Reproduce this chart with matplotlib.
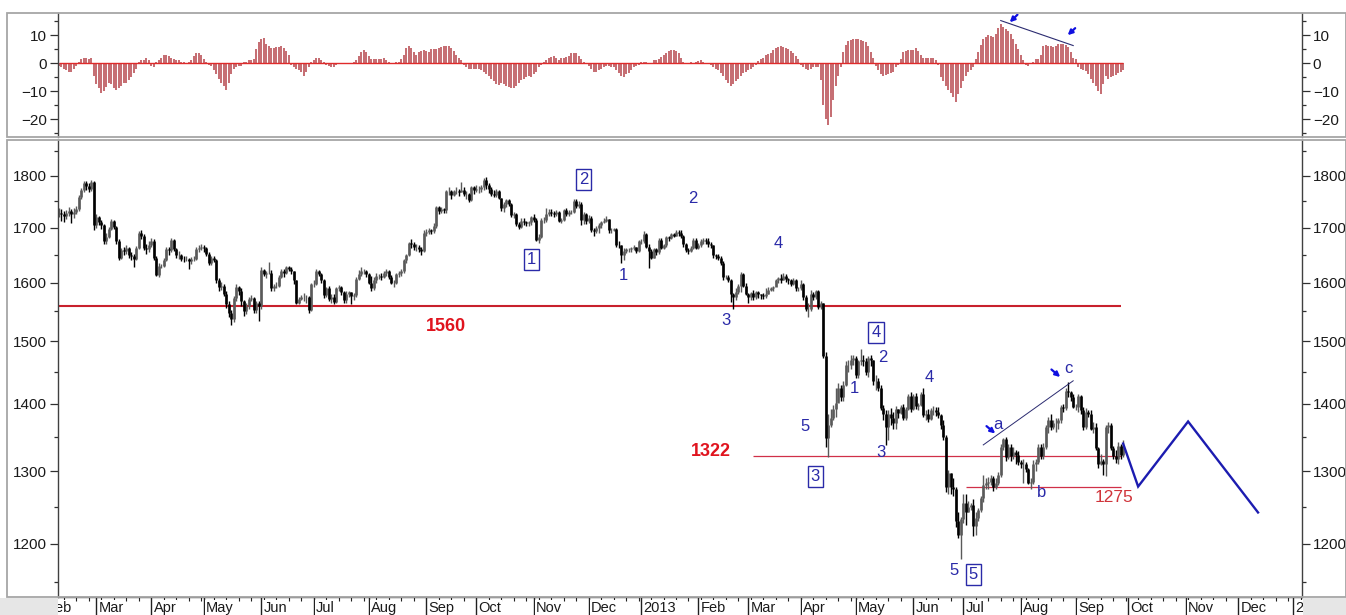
import numpy as np
import pandas as pd
import matplotlib
matplotlib.use("Agg")
import matplotlib.pyplot as plt
import matplotlib.transforms as mtransforms
from matplotlib.ticker import FixedLocator, FixedFormatter, NullFormatter
from matplotlib.patches import Rectangle

plt.rcParams['font.family'] = ['Liberation Sans', 'DejaVu Sans']

# ---------------- data (daily bars, business days from first_day) ----------------
first_day = "2012-02-09"

close_2012 = [1728,1725,1722,1727,1732,1725,1730,1735,1758,1772,1785,1780,1775,1788,1705,
    1720,1710,1705,1675,1683,1698,1712,1702,1675,1645,1658,1657,1662,1650,1648,1643,1662,1690,1685,1662,1660,1668,
    1675,1645,1613,1630,1630,1640,1660,1658,1677,1660,1650,1650,1643,1642,1643,1638,1642,1643,1660,1663,1664,
    1662,1652,1635,1645,1640,1605,1592,1595,1580,1562,1548,1538,1573,1592,1585,1568,1550,1560,1572,1573,1553,1565,1560,
    1622,1615,1617,1618,1590,1595,1595,1610,1620,1617,1628,1625,1620,1605,1565,1572,1575,1575,1575,1552,1598,
    1598,1620,1615,1605,1578,1590,1572,1575,1567,1590,1592,1583,1570,1580,1583,1577,1578,1607,1615,1620,1620,1615,
    1600,1590,1605,1612,1612,1610,1617,1620,1610,1600,1600,1615,1617,1620,1640,1650,1672,1670,1665,1665,1660,1657,1690,
    1692,1695,1693,1703,1740,1731,1735,1733,1770,1770,1762,1770,1770,1768,1773,1765,1765,1752,1778,1772,
    1775,1775,1777,1792,1781,1775,1765,1762,1770,1757,1737,1745,1752,1745,1723,1725,1707,1702,1713,1711,1708,1710,1720,
    1715,1677,1683,1715,1715,1725,1730,1728,1725,1730,1713,1715,1733,1725,1730,1730,1750,1742,1745,1715,1725,1712,
    1719,1696,1693,1700,1705,1711,1713,1717,1695,1696,1697,1668,1667,1650,1657,1660,1660,1662,1664,1656,1675]
high_2012 = [1738,1735,1731,1734,1740,1736,1737,1742,1762,1776,1790,1789,1785,1792,1790,
    1725,1722,1714,1706,1690,1702,1716,1714,1704,1678,1662,1664,1668,1664,1655,1652,1666,1694,1696,1688,1670,1675,
    1680,1678,1648,1635,1634,1645,1664,1665,1680,1678,1662,1656,1652,1648,1648,1644,1646,1648,1664,1668,1670,
    1668,1665,1655,1648,1648,1642,1608,1602,1598,1585,1568,1552,1576,1597,1595,1590,1570,1565,1575,1578,1575,1568,1568,
    1628,1625,1621,1637,1622,1598,1602,1614,1625,1625,1630,1630,1628,1620,1605,1575,1578,1582,1578,1577,1600,
    1605,1625,1622,1618,1607,1592,1594,1580,1580,1593,1596,1594,1585,1585,1586,1583,1582,1610,1623,1627,1624,1623,
    1617,1612,1610,1618,1616,1617,1620,1625,1623,1614,1604,1618,1620,1624,1642,1652,1674,1678,1674,1670,1668,1664,1696,
    1698,1700,1698,1708,1742,1741,1740,1738,1772,1778,1773,1773,1778,1775,1788,1777,1770,1767,1780,1779,
    1782,1780,1782,1796,1798,1785,1778,1772,1775,1772,1757,1748,1755,1755,1747,1730,1727,1710,1718,1718,1713,1713,1722,
    1725,1718,1688,1718,1720,1738,1735,1735,1732,1734,1732,1718,1736,1738,1734,1733,1755,1754,1750,1748,1729,1728,
    1724,1722,1700,1703,1708,1712,1718,1722,1717,1700,1700,1699,1675,1668,1663,1663,1662,1665,1668,1665,1677]
low_2012 = [1720,1712,1710,1716,1722,1708,1718,1726,1731,1754,1768,1772,1768,1770,1695,
    1700,1705,1698,1670,1670,1680,1695,1698,1670,1640,1642,1650,1652,1645,1640,1627,1640,1660,1678,1658,1652,1655,
    1665,1640,1612,1610,1626,1628,1638,1650,1655,1656,1645,1642,1638,1636,1638,1625,1634,1638,1640,1655,1658,
    1655,1648,1632,1632,1636,1600,1585,1588,1576,1556,1540,1527,1532,1568,1578,1560,1542,1545,1555,1568,1548,1548,1534,
    1555,1612,1608,1615,1586,1585,1590,1592,1608,1610,1615,1620,1615,1598,1562,1562,1570,1568,1565,1548,1550,
    1592,1596,1612,1600,1573,1575,1568,1565,1562,1565,1585,1578,1565,1565,1575,1563,1570,1575,1605,1612,1615,1610,
    1597,1585,1588,1600,1606,1604,1608,1612,1606,1597,1592,1598,1610,1612,1618,1635,1648,1662,1658,1657,1655,1650,1655,
    1685,1688,1688,1690,1700,1726,1728,1728,1728,1762,1755,1760,1765,1760,1768,1760,1755,1748,1750,1765,
    1768,1766,1768,1772,1775,1767,1760,1758,1758,1755,1732,1730,1740,1741,1720,1718,1703,1697,1700,1705,1703,1703,1705,
    1710,1675,1672,1680,1708,1710,1722,1722,1720,1722,1710,1708,1712,1722,1722,1726,1728,1738,1738,1705,1706,1707,
    1708,1692,1685,1690,1690,1700,1708,1710,1690,1690,1693,1665,1662,1635,1640,1653,1655,1655,1658,1653,1655]

close_2013 = [1675,1688,1665,1657,1645,1660,1655,1677,1662,1668,1682,1680,1688,1685,1692,1690,1685,1670,1658,1657,1662,1677,1662,
    1667,1675,1677,1675,1670,1668,1650,1648,1645,1635,1610,1610,1605,1580,1575,1583,1595,1615,1595,1580,
    1575,1582,1575,1583,1580,1578,1577,1580,1588,1590,1592,1604,1608,1605,1612,1607,1605,1597,1605,1590,1590,
    1598,1575,1555,1555,1580,1575,1585,1558,1564,1476,1348,1368,1378,1392,1402,1425,1410,1430,1462,1462,1470,1472,
    1445,1468,1470,1468,1450,1473,1470,1435,1435,1425,1393,1385,1365,1385,1378,1370,1392,1386,1395,1378,1392,1412,1392,
    1412,1397,1398,1415,1383,1385,1377,1390,1390,1388,1383,1367,1350,1277,1297,1277,1275,1230,1212,1233,
    1255,1243,1250,1252,1223,1235,1245,1262,1280,1283,1285,1290,1277,1283,1295,1335,1347,1320,1335,1322,1328,1323,1313,
    1310,1310,1303,1283,1285,1310,1313,1335,1322,1335,1365,1375,1365,1370,1370,1375,1395,1393,1420,1418,1410,1395,
    1395,1412,1390,1365,1387,1385,1362,1365,1333,1310,1315,1310,1365,1368,1333,1322,1317,1337,1323,1338]
high_2013 = [1678,1694,1690,1670,1660,1663,1662,1680,1680,1670,1684,1685,1690,1690,1696,1696,1695,1687,1672,1662,1666,1680,1680,
    1672,1679,1680,1680,1680,1674,1667,1652,1652,1648,1638,1614,1614,1606,1582,1590,1598,1619,1617,1600,
    1582,1584,1587,1585,1586,1581,1582,1590,1592,1593,1595,1607,1610,1615,1617,1616,1609,1607,1608,1606,1592,
    1604,1600,1578,1565,1587,1583,1587,1588,1568,1565,1482,1385,1392,1398,1424,1433,1430,1436,1468,1470,1477,1478,
    1476,1470,1488,1478,1472,1476,1478,1470,1445,1440,1430,1398,1390,1390,1393,1388,1397,1392,1398,1400,1395,1416,1418,
    1416,1417,1402,1418,1424,1390,1392,1394,1396,1395,1395,1385,1375,1352,1302,1297,1290,1278,1242,1236,
    1268,1267,1258,1255,1260,1242,1248,1265,1294,1290,1292,1294,1293,1290,1298,1339,1348,1350,1340,1340,1335,1330,1329,
    1316,1318,1313,1305,1290,1316,1318,1340,1340,1341,1368,1380,1385,1376,1378,1378,1398,1400,1424,1434,1420,1415,
    1400,1415,1414,1395,1393,1390,1390,1372,1370,1335,1324,1318,1368,1372,1370,1337,1330,1342,1340,1345]
low_2013 = [1670,1672,1662,1626,1643,1644,1650,1652,1660,1660,1665,1676,1678,1683,1684,1685,1680,1664,1655,1652,1655,1660,1660,
    1660,1665,1670,1670,1664,1662,1644,1643,1640,1632,1605,1606,1602,1566,1555,1570,1580,1584,1592,1578,
    1564,1570,1570,1572,1573,1572,1572,1574,1580,1585,1586,1594,1600,1600,1604,1602,1598,1594,1596,1586,1586,
    1588,1570,1550,1540,1550,1570,1572,1555,1555,1472,1335,1321,1365,1375,1380,1405,1405,1405,1428,1450,1455,1462,
    1440,1440,1462,1460,1445,1442,1460,1430,1422,1420,1390,1375,1338,1345,1368,1362,1362,1378,1385,1375,1376,1390,1388,
    1391,1392,1390,1396,1380,1375,1372,1375,1383,1382,1378,1362,1346,1270,1268,1268,1265,1222,1208,1180,
    1228,1225,1242,1245,1210,1212,1230,1242,1256,1275,1275,1280,1272,1275,1280,1292,1330,1315,1318,1315,1318,1310,1308,
    1305,1283,1298,1281,1275,1282,1300,1310,1317,1318,1332,1355,1360,1362,1357,1362,1370,1388,1390,1410,1404,1393,
    1390,1388,1385,1360,1362,1380,1360,1355,1330,1305,1308,1295,1293,1355,1330,1318,1312,1310,1318,1320]

osc_2012 = [-1,-1.5,-2,-2.5,-3,-3,-2,-1, 0.5,1.5,2,2,1.5,2,
    -4.5,-7.5,-9,-10.5,-10,-8.5,-7,-7.5,-9,-9.5,-9,-8,-7,-7,-6,-5,-3.5,-2,
    0.5,1,1,2,1,-1,-1.5, 0.5,1,2,3,3,2.5,2,1.5,1,1,0.5,0.3,
    0.2,0.3,1,2.5,3.5,3.5,3,1.5,0.5,
    -0.5,-1,-2.5,-4,-5.5,-7,-8,-9.5,-7,-4,-2,-1.5,-1,-1,
    0.3,0.5,1,1,1.5,5,7.5,8.5,9,7,6,5.5,5.5,5.8,5.8,6,5.5,4.5,3,
    -0.5,-1.5,-2,-2.5,-3,-4.5,-3,-1.5, 0.5,1,2,2,1,0.3, -0.5,-1,-1.5,-1.2,-0.5,
    0.2,-0.3,0.1,0.1,0.2,0.2,0.3, 1,2.5,4,4.7,4,2.5, 1.5,1.5,1.5,1.5,1.5,1.8,1, 0.3,0.2,0.2,0.3,0.4,
    1.5,3,5.5,6,5.5,4,3,4,4.5,4.8,4.5,4,5.2,5.2,5,5.3,5.8,6,6,6, 5.5,4.5,3,2,1,
    -0.5,-1.5,-2,-2,-2,-2,-2.2,-2.5,-3,-4,-4.5,-5.5,-6.5,-7.5,-7.8,-7,-7.5,-8,-8.5,-8.8,-9,-8,-7,-6,-5.5,-5,-4.5,-5,-4,-3,-1.5,-0.5,
    0.5,1,1.8,2.3,2.5,2,1.2,1.8,2,2.2,2.5,3.5,3.8,3.5,2.5,1.5,0.5,
    -0.3,-1,-2,-3,-3,-2.5,-2,-1.5,-1,-1,-1.2,-1.5,-2.5,-3.5,-4.5,-4.8,-4,-3.5,-2.5,-1.5,-1,-0.5]
osc_2013 = [0.3,0.5,0.3,0.2,0.2, 1,1.3,1.5,2.2,3,3.8,4.2,4.6,4.7,4.5,3.5,2,
    0.3,0.2,0.2,0.3,0.2,0.5,0.8,1,0.5,0.2,
    -0.3,-0.8,-1.5,-2,-2.5,-3.5,-4.5,-6,-7,-8,-7.5,-6.5,-5.5,-4.5,-3.5,-3,-2.5,-2,-1.5,-0.5,
    0.8,1.5,2,2.8,3.2,3.8,4.6,5.3,5.8,6.1,5.8,5.5,5,4.2,3.5,2.5,1.5,
    -0.5,-1.5,-2.2,-2.5,-2,-1.5,-1.3,-1.2,-6,-15,-20,-22,-19,-13,-8,-4.5,-1.5,
    4,6.5,7.8,8.3,8.6,8.8,8.8,8.3,7.8,7.5,6,4,1.8,
    -1,-2.5,-4,-4.5,-4.3,-4,-3.5,-3,-1.5,-0.5,
    1.5,4,4.5,4.7,4.8,4.8,5.3,4.5,3,2,2,2,2,1.8,1,
    -0.5,-5,-6.5,-8,-9.5,-10.5,-12,-14,-11,-9,-6.5,-4.5,-3,-2.3,-1.5,
    1.5,4,6.5,8.5,9.5,10,9.8,9.4,10.5,12.5,13.9,13,12.2,11.5,10.5,8.5,7,5,3,1,
    -0.5,-1,0.2,0.3,
    1.5,1.5,3,6,6.5,6.3,6.2,5.9,6.3,6.8,7,7,6.5,5.8,4,2,1.5,
    -1.5,-2,-2.3,-2.8,-3.8,-5.5,-7,-8.2,-10,-11,-7.5,-4.5,-5.5,-5,-4.7,-4.3,-3.5,-3,-2.5]

month_labels = ["Feb","Mar","Apr","May","Jun","Jul","Aug","Sep","Oct","Nov","Dec","2013",
                "Feb","Mar","Apr","May","Jun","Jul","Aug","Sep","Oct","Nov","Dec","2014"]
price_ticks = [1200, 1300, 1400, 1500, 1600, 1700, 1800]
price_minor = [1150, 1250, 1350, 1450, 1550, 1650, 1750, 1850]
osc_ticks = [-20, -10, 0, 10]
osc_minor = [-25, -15, -5, 5, 15]

level_values = [1560, 1322, 1278]
level_labels = ["1560", "1322", "1275"]
level_from = ["2012-02-09", "2013-03-05", "2013-07-02"]
level_to = ["2013-09-26", "2013-09-26", "2013-09-26"]

proj_dates = ["2013-09-27", "2013-10-07", "2013-11-04", "2013-12-12"]
proj_values = [1340, 1278, 1373, 1242]

trend_dates = ["2013-07-11", "2013-08-30"]
trend_values = [1338, 1436]
osc_trend_dates = ["2013-07-22", "2013-08-30"]
osc_trend_values = [15.2, 6.3]

wave_text = ['1', '2', '2', '1', '4', '3', '4', '2', '1', '4', '5', '3', '3', '5', '5', 'a', 'b', 'c']
wave_boxed = [1, 1, 0, 0, 0, 0, 1, 0, 0, 0, 0, 0, 1, 0, 1, 0, 0, 0]

# ---------------- helpers ----------------
def bidx(d):
    return int(np.busday_count(first_day, d))

closes = np.array(close_2012 + close_2013, dtype=float)
highs = np.array(high_2012 + high_2013, dtype=float)
lows = np.array(low_2012 + low_2013, dtype=float)
osc = np.array(osc_2012 + osc_2013, dtype=float)
n = min(len(closes), len(highs), len(lows))
closes, highs, lows = closes[:n], highs[:n], lows[:n]
xs = np.arange(n)
opens = np.r_[closes[0], closes[:-1]]
xo = np.arange(len(osc))

W, H = 1346, 615
fig = plt.figure(figsize=(W / 100, H / 100), dpi=100)
fig.patch.set_facecolor('white')

def fx(p):
    return p / W

def fy(p):
    return 1 - p / H

ax_o = fig.add_axes([fx(58), fy(137), fx(1302) - fx(58), (137 - 13) / H])
ax = fig.add_axes([fx(58), fy(597), fx(1302) - fx(58), (597 - 140) / H])

XL = (-0.4, 497.6)
BLUE = '#2a2aa8'
RED = '#e0141e'
DARK = '#404040'

# ---------------- oscillator panel ----------------
ax_o.vlines(xo, 0, osc, color='#b5444a', lw=1.1)
ax_o.hlines(0, 0, len(osc) - 1, color='#e02a2a', lw=1.0)
ax_o.plot([bidx(d) for d in osc_trend_dates], osc_trend_values, color='#2b2b70', lw=0.8)
for tail, head in [((383.7, 17.3), (380.6, 14.6)), ((406.8, 12.5), (403.8, 10.0))]:
    ax_o.annotate('', xy=head, xytext=tail,
                  arrowprops=dict(arrowstyle='-|>', color='#1010e0', lw=1.6, mutation_scale=7,
                                  shrinkA=0, shrinkB=0))
ax_o.set_xlim(*XL)
ax_o.set_ylim(-26.3, 17.9)
ax_o.yaxis.set_major_locator(FixedLocator(osc_ticks))
ax_o.yaxis.set_minor_locator(FixedLocator(osc_minor))
ax_o.yaxis.set_minor_formatter(NullFormatter())
ax_o.set_xticks([])
ax_o.tick_params(axis='y', which='both', left=True, right=True, labelleft=True, labelright=True,
                 direction='out', colors='#303030', labelcolor='#1a1a1a', labelsize=11, pad=2)
ax_o.tick_params(axis='y', which='major', length=5.8, width=0.9)
ax_o.tick_params(axis='y', which='minor', length=2.9, width=0.9)
for s in ['top', 'bottom']:
    ax_o.spines[s].set_visible(False)
for s in ['left', 'right']:
    ax_o.spines[s].set_color(DARK)
    ax_o.spines[s].set_linewidth(1.0)

# ---------------- price panel ----------------
up = closes >= opens
dn = ~up
ax.vlines(xs[up], lows[up], highs[up], color='#5a5a5a', lw=1.0)
ax.vlines(xs[dn], lows[dn], highs[dn], color='#000000', lw=1.0)
ax.vlines(xs[up], opens[up], closes[up], color='#5a5a5a', lw=1.9)
ax.vlines(xs[dn], opens[dn], closes[dn], color='#000000', lw=1.9)

lw_lvls = [1.5, 0.9, 0.9]
col_lvls = ['#c8202c', '#d03048', '#d03048']
for v, a, b, lw, c in zip(level_values, level_from, level_to, lw_lvls, col_lvls):
    ax.hlines(v, bidx(a), bidx(b), color=c, lw=lw, zorder=1.5)

ax.plot([bidx(d) for d in proj_dates], proj_values, color='#1c1cb0', lw=1.7, solid_joinstyle='miter')
ax.plot([bidx(d) for d in trend_dates], trend_values, color='#2b2b70', lw=0.7)

# level labels
ax.text(154.8, 1524, level_labels[0], color=RED, fontsize=13, fontweight='bold', ha='center', va='center')
ax.text(260.8, 1329, level_labels[1], color=RED, fontsize=13, fontweight='bold', ha='center', va='center')
ax.text(422.4, 1262, level_labels[2], color='#d0343a', fontsize=12.5, ha='center', va='center')

# wave labels
wave_pos = [(189.1, 1642), (209.9, 1792), (253.6, 1756), (225.9, 1612), (288.0, 1671), (266.8, 1534),
            (327.1, 1514), (329.9, 1474), (318.4, 1424), (348.5, 1442), (298.5, 1365), (329.2, 1327),
            (302.8, 1292), (358.1, 1165), (366.1, 1160), (375.9, 1369), (393.5, 1270), (403.9, 1456)]
for (wx, wy), t, bx in zip(wave_pos, wave_text, wave_boxed):
    kw = {}
    if bx:
        kw['bbox'] = dict(boxstyle='square,pad=0.18', fc='none', ec=BLUE, lw=1.0)
    ax.text(wx, wy, t, color=BLUE, fontsize=12, ha='center', va='center', **kw)

for tail, head in [((371.3, 1366), (374.8, 1355)), ((397.3, 1454), (400.8, 1442))]:
    ax.annotate('', xy=head, xytext=tail,
                arrowprops=dict(arrowstyle='-|>', color='#1010e0', lw=1.6, mutation_scale=7,
                                shrinkA=0, shrinkB=0))

ax.set_yscale('log')
ax.set_ylim(1131.5, 1872.5)
ax.set_xlim(*XL)
ax.yaxis.set_major_locator(FixedLocator(price_ticks))
ax.yaxis.set_major_formatter(FixedFormatter([str(t) for t in price_ticks]))
ax.yaxis.set_minor_locator(FixedLocator(price_minor))
ax.yaxis.set_minor_formatter(NullFormatter())
ax.tick_params(axis='y', which='both', left=True, right=True, labelleft=True, labelright=True,
               direction='out', colors='#303030', labelcolor='#1a1a1a', labelsize=11, pad=2)
ax.tick_params(axis='y', which='major', length=5.8, width=0.9)
ax.tick_params(axis='y', which='minor', length=2.9, width=0.9)

# month ticks
months = pd.date_range("2012-02-01", "2014-01-01", freq="MS")
m_idx = [int(np.busday_count(first_day, np.busday_offset(m.strftime('%Y-%m-%d'), 0, roll='forward')))
         for m in months]
days = pd.date_range("2012-01-30", "2014-01-10", freq="W-MON")
w_idx = [bidx(d.strftime('%Y-%m-%d')) for d in days]
w_idx = [w for w in w_idx if w not in m_idx]
ax.xaxis.set_major_locator(FixedLocator(m_idx))
ax.xaxis.set_major_formatter(NullFormatter())
ax.xaxis.set_minor_locator(FixedLocator(w_idx))
ax.tick_params(axis='x', which='major', direction='out', length=13, width=1.0, color='#202020')
ax.tick_params(axis='x', which='minor', direction='out', length=3, width=0.8, color='#202020')
trans = mtransforms.blended_transform_factory(ax.transData, ax.transAxes)
for mi, lab in zip(m_idx, month_labels):
    ax.text(mi + 0.9, -0.023, lab, transform=trans, ha='left', va='center', fontsize=10.5,
            color='#1a1a1a', clip_on=False,
            bbox=dict(boxstyle='square,pad=0.05', fc='white', ec='none'))

ax.spines['top'].set_visible(False)
for s in ['left', 'right', 'bottom']:
    ax.spines[s].set_color(DARK)
    ax.spines[s].set_linewidth(1.0)

# ---------------- frames and margins ----------------
FR = '#a6a6a6'
fig.add_artist(Rectangle((fx(7), fy(137)), fx(1346) - fx(7), (137 - 13) / H, transform=fig.transFigure,
                         fill=False, ec=FR, lw=1.3))
fig.add_artist(Rectangle((fx(7), fy(597)), fx(1346) - fx(7), (597 - 140) / H, transform=fig.transFigure,
                         fill=False, ec=FR, lw=1.3))
fig.add_artist(Rectangle((0, 0), fx(57.5), (615 - 597.5) / H, transform=fig.transFigure,
                         fc='#e6e6e6', ec='none'))
fig.add_artist(Rectangle((fx(1302.5), 0), 1 - fx(1302.5), (615 - 597.5) / H, transform=fig.transFigure,
                         fc='#e6e6e6', ec='none'))

fig.savefig('out.png', dpi=100)
